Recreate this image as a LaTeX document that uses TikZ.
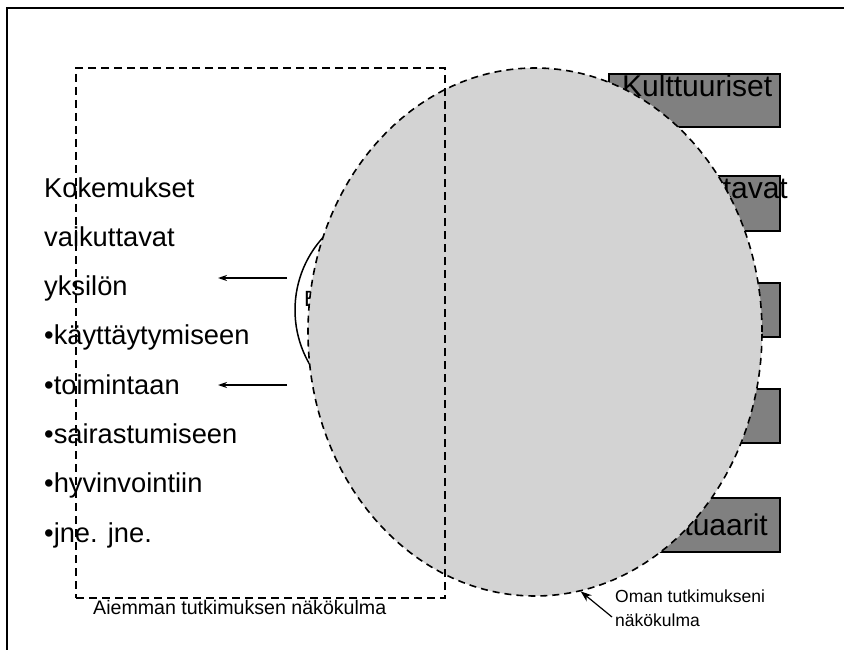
\documentclass[tikz,border=0pt]{standalone}
\usepackage{fontspec}
\setmainfont{Liberation Sans}
\usetikzlibrary{arrows.meta,shapes.geometric}
\tikzset{
  frameline/.style={line width=2bp, black},
  leftlbl/.style={anchor=base west, inner sep=0pt, font=\fontsize{27.3bp}{30bp}\selectfont},
  boxlbl/.style={inner sep=0pt, font=\fontsize{30bp}{33bp}\selectfont},
  smalllbl/.style={anchor=base west, inner sep=0pt, font=\fontsize{18bp}{20bp}\selectfont},
  graybox/.style={draw=black, line width=2bp, fill=boxgray},
  prevview/.style={draw=black, line width=2bp, dash pattern=on 8bp off 5bp},
  ownview/.style={draw=black, line width=1.6bp, dash pattern=on 7bp off 5bp, fill=ellgray},
  leftarrow/.style={-{Stealth[length=9bp,width=6bp]}, line width=1.3bp},
}
\definecolor{boxgray}{RGB}{128,128,128}
\definecolor{ellgray}{RGB}{211,211,211}
\begin{document}
\begin{tikzpicture}[x=1bp,y=-1bp]
\useasboundingbox (0,0) rectangle (844,650);
% open frame
\coordinate (f1) at (844,8);
\coordinate (f2) at (7,8);
\coordinate (f3) at (7,650);
\draw[frameline] (f1) -- (f2) -- (f3);
% grey boxes on the right
\node[graybox, minimum width=171bp, minimum height=53bp, anchor=north west] (b1) at (608,73) {};
\node[graybox, minimum width=171bp, minimum height=55bp, anchor=north west] (b2) at (608,175) {};
\node[graybox, minimum width=171bp, minimum height=54bp, anchor=north west] (b3) at (608,282) {};
\node[graybox, minimum width=171bp, minimum height=54bp, anchor=north west] (b4) at (608,388) {};
\node[graybox, minimum width=171bp, minimum height=54bp, anchor=north west] (b5) at (608,497) {};
\node[boxlbl, anchor=base west] (t1) at (622,97) {Kulttuuriset};
\node[boxlbl, anchor=base east] (t2) at (788,198) {tavat};
\node[boxlbl, anchor=base east] (t5) at (768,535) {tuaarit};
% left text
\node[leftlbl] (l1) at (44,197) {Kokemukset};
\node[leftlbl] (l2) at (44,246.3) {vaikuttavat};
\node[leftlbl] (l3) at (44,295.6) {yksilön};
\node[leftlbl] (l4) at (44,344.9) {•käyttäytymiseen};
\node[leftlbl] (l5) at (44,394.2) {•toimintaan};
\node[leftlbl] (l6) at (44,443.5) {•sairastumiseen};
\node[leftlbl] (l7) at (44,492.8) {•hyvinvointiin};
\node[leftlbl] (l8) at (44,542.1) {•jne. jne.};
% arrows pointing to the text
\coordinate (a1s) at (287,278);
\coordinate (a1e) at (218,278);
\coordinate (a2s) at (287,385);
\coordinate (a2e) at (218,385);
\draw[leftarrow] (a1s) -- (a1e);
\draw[leftarrow] (a2s) -- (a2e);
% hidden circle behind the big ellipse
\node[draw=black, line width=1.5bp, circle, minimum size=216bp, inner sep=0pt] (hc) at (403,310) {};
\node[anchor=base west, inner sep=0pt, font=\fontsize{22bp}{24bp}\selectfont] (he) at (304,306) {E};
% own research view (big ellipse)
\node[ownview, ellipse, minimum width=454bp, minimum height=528bp, inner sep=0pt] (own) at (535,332) {};
% previous research view (dashed rectangle)
\node[prevview, minimum width=369bp, minimum height=530bp, anchor=north west, inner sep=0pt] (prev) at (75,67) {};
% labels
\node[smalllbl, font=\fontsize{19.6bp}{22bp}\selectfont] (pl) at (93,614) {Aiemman tutkimuksen näkökulma};
\node[smalllbl, align=left, anchor=north west, font=\fontsize{17.5bp}{24bp}\selectfont] (ol) at (615,590) {Oman tutkimukseni\\näkökulma};
\coordinate (oa) at (612,617);
\draw[-{Stealth[length=11bp,width=8bp]}, line width=1.2bp] (oa) -- (own.-80);
\end{tikzpicture}
\end{document}
